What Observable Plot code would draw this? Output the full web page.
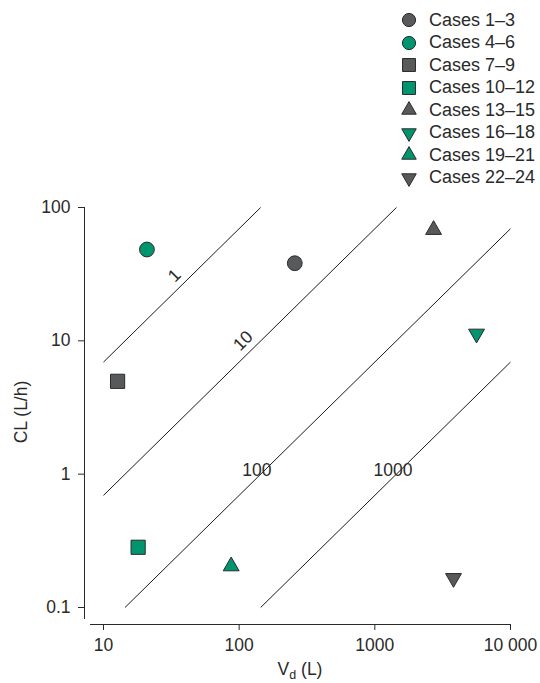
<!DOCTYPE html>
<html>
<head>
<meta charset="utf-8">
<script src="https://cdn.jsdelivr.net/npm/d3@7"></script>
<script src="https://cdn.jsdelivr.net/npm/@observablehq/plot@0.6"></script>
<style>
  html, body { margin: 0; padding: 0; background: #fff; }
  #wrap { position: relative; width: 540px; height: 683px; font-family: "Liberation Sans", Arial, Helvetica, sans-serif; }
  #legend { position: absolute; left: 400px; top: 9px; }
  .row { display: flex; align-items: center; height: 22.5px; font-size: 18px; color: #2a2a2a; white-space: nowrap; }
  .row svg { margin-right: 11px; flex: none; }
</style>
</head>
<body>
<div id="wrap"><div id="legend"></div></div>
<script>
// ---- data ----
const cases = ["Cases 1–3", "Cases 4–6", "Cases 7–9", "Cases 10–12", "Cases 13–15", "Cases 16–18", "Cases 19–21", "Cases 22–24"];
const vd = [257, 20.9, 12.7, 18.0, 2710, 5620, 87.3, 3800];     // L
const cl = [38.2, 48.4, 4.97, 0.283, 68, 11.3, 0.204, 0.166];   // L/h
const shapes = ["circle", "circle", "square", "square", "triangle", "triangleDown", "triangle", "triangleDown"];
const groups = ["grey", "green", "grey", "green", "grey", "green", "green", "grey"];

// half-life reference lines (read end points)
const halfLives = ["1", "10", "100", "1000"];
const lineVd1 = [10, 10, 14.4, 144];
const lineCl1 = [6.93, 0.693, 0.1, 0.1];
const lineVd2 = [144, 1443, 10000, 10000];
const lineCl2 = [100, 100, 69.3, 6.93];
const labelVd = [33.3, 107, 135, 1361];
const labelCl = [30.9, 10.0, 1.06, 1.06];
const labelRot = [-45, -45, 0, 0];

const xTicks = [10, 100, 1000, 10000];
const yTicks = [0.1, 1, 10, 100];
const xTickLabels = ["10", "100", "1000", "10 000"];
const yTickLabels = ["0.1", "1", "10", "100"];

// ---- styles ----
const colorMap = {grey: "#58595b", green: "#00956f"};
const radiusMap = {circle: 7.4, square: 8.0, triangle: 5.9, triangleDown: 5.9};
const legendRadius = {circle: 6.6, square: 7.3, triangle: 5.4, triangleDown: 5.4};
const triangleDown = {
  draw(context, size) {
    const y = -Math.sqrt(size / (3 * Math.sqrt(3)));
    context.moveTo(0, -y * 2);
    context.lineTo(-Math.sqrt(3) * y, y);
    context.lineTo(Math.sqrt(3) * y, y);
    context.closePath();
  }
};
const symbolMap = {circle: d3.symbolCircle, square: d3.symbolSquare, triangle: d3.symbolTriangle, triangleDown};

const points = cases.map((c, i) => ({c, vd: vd[i], cl: cl[i], shape: shapes[i], g: groups[i]}));
const lines = halfLives.map((t, i) => ({t, x1: lineVd1[i], y1: lineCl1[i], x2: lineVd2[i], y2: lineCl2[i], lx: labelVd[i], ly: labelCl[i], rot: labelRot[i]}));

const font = '"Liberation Sans", Arial, Helvetica, sans-serif';
const FS = 17.5;

const chart = Plot.plot({
  width: 540,
  height: 683,
  marginLeft: 90,
  marginRight: 30,
  marginTop: 207,
  marginBottom: 65,
  style: {fontFamily: font, fontSize: FS + "px", color: "#2a2a2a", background: "transparent"},
  x: {type: "log", domain: [8.02, 10000]},
  y: {type: "log", domain: [0.0827, 100]},
  r: {type: "identity"},
  symbol: {domain: Object.keys(symbolMap), range: Object.values(symbolMap)},
  marks: [
    Plot.frame({anchor: "left", dx: -6, stroke: "#2a2a2a"}),
    Plot.frame({anchor: "bottom", dy: 6, stroke: "#2a2a2a"}),
    Plot.axisY({ticks: yTicks, tickFormat: d => yTickLabels[yTicks.indexOf(d)], dx: -6, tickSize: 6, tickPadding: 8, label: null, stroke: "#2a2a2a", fontSize: FS}),
    Plot.axisX({ticks: xTicks, tickFormat: d => xTickLabels[xTicks.indexOf(d)], dy: 6, tickSize: 6, tickPadding: 8, label: null, stroke: "#2a2a2a", fontSize: FS}),
    Plot.link(lines, {x1: "x1", y1: "y1", x2: "x2", y2: "y2", stroke: "#1a1a1a", strokeWidth: 1}),
    ...lines.map(l => Plot.text([l], {x: "lx", y: "ly", text: "t", rotate: l.rot, fontSize: FS, fill: "#2a2a2a"})),
    Plot.dot(points, {x: "vd", y: "cl", symbol: "shape", r: d => radiusMap[d.shape], fill: d => colorMap[d.g], stroke: "#2b2b2b", strokeWidth: 1})
  ]
});

// axis titles
const svg = d3.select(chart);
const xt = svg.append("text")
  .attr("x", 300).attr("y", 675)
  .attr("text-anchor", "middle")
  .attr("font-size", FS).attr("fill", "#2a2a2a");
xt.append("tspan").text("V");
xt.append("tspan").attr("dy", 4).attr("font-size", 12.5).text("d");
xt.append("tspan").attr("dy", -4).text(" (L)");

svg.append("text")
  .attr("transform", "translate(27,412) rotate(-90)")
  .attr("text-anchor", "middle")
  .attr("font-size", FS).attr("fill", "#2a2a2a")
  .text("CL (L/h)");

chart.style.position = "absolute";
chart.style.left = "0";
chart.style.top = "0";
const wrap = document.getElementById("wrap");
wrap.insertBefore(chart, wrap.firstChild);

// legend
const legend = d3.select("#legend");
cases.forEach((c, i) => {
  const row = legend.append("div").attr("class", "row");
  const s = row.append("svg").attr("width", 18).attr("height", 18);
  const rr = legendRadius[shapes[i]];
  s.append("path")
    .attr("transform", "translate(9,9)")
    .attr("d", d3.symbol(symbolMap[shapes[i]], rr * rr * Math.PI)())
    .attr("fill", colorMap[groups[i]])
    .attr("stroke", "#2b2b2b").attr("stroke-width", 1);
  row.append("span").text(c);
});
</script>
</body>
</html>
